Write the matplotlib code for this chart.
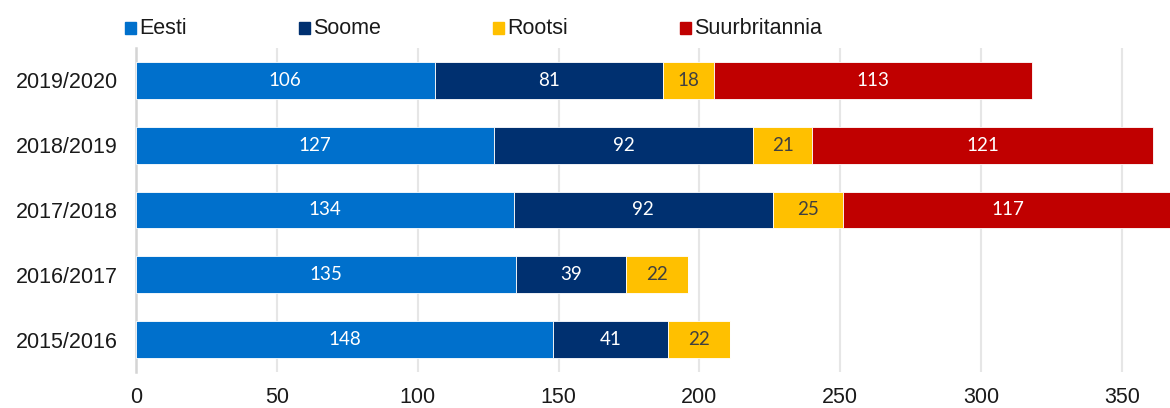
import matplotlib
matplotlib.use("Agg")
import matplotlib.pyplot as plt
from matplotlib.patches import Rectangle

years = ["2019/2020", "2018/2019", "2017/2018", "2016/2017", "2015/2016"]
series = ["Eesti", "Soome", "Rootsi", "Suurbritannia"]
eesti = [106, 127, 134, 135, 148]
soome = [81, 92, 92, 39, 41]
rootsi = [18, 21, 25, 22, 22]
suurbritannia = [113, 121, 117, 0, 0]
x_ticks = [0, 50, 100, 150, 200, 250, 300, 350]

colors = ["#0070CC", "#003070", "#FFC000", "#C00000"]
label_colors = ["white", "white", "#404040", "white"]

fig = plt.figure(figsize=(11.7, 4.08), dpi=100)
ax = fig.add_axes([0.1162, 0.0882, 0.8838, 0.7942])

values = [eesti, soome, rootsi, suurbritannia]
pos = list(range(len(years)))
left = [0] * len(years)
for name, vals, col, lcol in zip(series, values, colors, label_colors):
    bars = ax.barh(pos, vals, left=left, height=0.57, color=col,
                   edgecolor="white", linewidth=0.6, label=name, zorder=3)
    for b, v in zip(bars, vals):
        if v > 0:
            ax.text(b.get_x() + b.get_width() / 2, b.get_y() + b.get_height() / 2,
                    str(v), ha="center", va="center", color=lcol,
                    fontsize=13.5, family="Lato", zorder=4)
    left = [l + v for l, v in zip(left, vals)]

ax.set_xlim(0, 367)
ax.set_ylim(len(years) - 0.5, -0.5)
ax.set_yticks(pos)
ax.set_yticklabels(years, fontsize=15.5, family="Liberation Sans", color="#1a1a1a")
ax.set_xticks(x_ticks)
ax.set_xticklabels([str(t) for t in x_ticks], fontsize=15.5, family="Liberation Sans", color="#1a1a1a")
ax.tick_params(axis="both", length=0)
ax.tick_params(axis="x", pad=11)
ax.tick_params(axis="y", pad=13)
ax.grid(axis="x", color="#e6e6e6", linewidth=1.5, zorder=0)
for s in ["top", "right", "bottom"]:
    ax.spines[s].set_visible(False)
ax.spines["left"].set_color("#d4d4d4")
ax.spines["left"].set_linewidth(1.8)
ax.spines["left"].set_zorder(2)

# legend drawn manually to follow the original's uneven spacing
legend_x = [125, 299, 493, 680]
W, H = 1170, 408
for name, col, lx in zip(series, colors, legend_x):
    fig.patches.append(Rectangle((lx / W, 1 - 33.5 / H), 11 / W, 11 / H,
                                 transform=fig.transFigure, color=col))
    fig.text((lx + 14) / W, 1 - 28 / H, name, fontsize=15.5,
             family="Liberation Sans", va="center", ha="left", color="#1a1a1a")

fig.savefig("out.png", dpi=100)
